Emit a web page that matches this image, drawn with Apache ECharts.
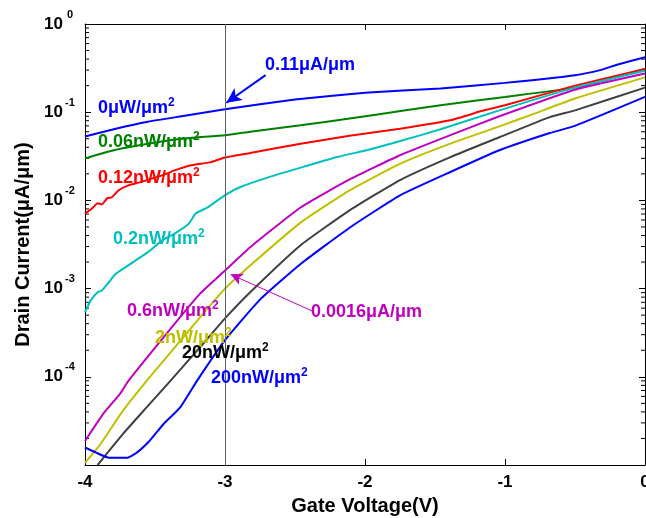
<!DOCTYPE html>
<html>
<head>
<meta charset="utf-8">
<script src="https://cdn.jsdelivr.net/npm/echarts@6/dist/echarts.min.js"></script>
<style>
    html, body { margin: 0; padding: 0; background: #fff; }
    #chart { width: 646px; height: 518px; }
</style>
</head>
<body>
<div id="chart"></div>
<script>
// gate voltage (V) / drain current (uA/um) for each illumination
const vgDark = [-4, -3.78, -3.55, -3.31, -3.0, -2.5, -2.0, -1.46, -1.0, -0.5, -0.32, -0.2, 0];
const idDark = [0.053, 0.065, 0.078, 0.090, 0.108, 0.139, 0.166, 0.186, 0.215, 0.263, 0.300, 0.345, 0.42];

const vg006 = [-4, -3.88, -3.74, -3.55, -3.31, -3.0, -2.82, -2.46, -2.11, -1.71, -1.46, -1.0, -0.5, -0.25, 0];
const id006 = [0.0298, 0.034, 0.0387, 0.044, 0.050, 0.0548, 0.060, 0.071, 0.085, 0.105, 0.12, 0.149, 0.19, 0.24, 0.31];

const vg012 = [-4, -3.95, -3.91, -3.88, -3.84, -3.81, -3.76, -3.69, -3.61, -3.54, -3.45, -3.36, -3.24, -3.11, -3.0, -2.82, -2.46, -2.11, -1.75, -1.39, -1.15, -1.0, -0.5, 0];
const id012 = [0.0071, 0.0081, 0.0093, 0.0090, 0.0106, 0.0108, 0.0130, 0.0148, 0.0160, 0.0173, 0.0192, 0.0219, 0.0250, 0.0270, 0.0306, 0.0345, 0.044, 0.054, 0.065, 0.081, 0.105, 0.12, 0.20, 0.31];

const vg02 = [-4, -3.96, -3.91, -3.88, -3.83, -3.78, -3.71, -3.64, -3.55, -3.45, -3.36, -3.26, -3.21, -3.12, -3.0, -2.89, -2.68, -2.44, -2.2, -1.96, -1.73, -1.46, -1.04, -0.5, 0];
const id02 = [5.4e-4, 7.3e-4, 9.1e-4, 9.5e-4, 1.18e-3, 1.47e-3, 1.75e-3, 2.08e-3, 2.59e-3, 3.5e-3, 4.2e-3, 5.4e-3, 7.1e-3, 8.4e-3, 0.0115, 0.0142, 0.0185, 0.024, 0.031, 0.038, 0.048, 0.064, 0.105, 0.19, 0.295];

const vg06 = [-4, -3.87, -3.75, -3.69, -3.42, -3.18, -3.0, -2.82, -2.46, -2.11, -1.75, -1.39, -1.04, -0.5, 0];
const id06 = [1.87e-5, 3.8e-5, 6.4e-5, 9.0e-5, 3.05e-4, 8.7e-4, 1.6e-3, 2.95e-3, 8.3e-3, 0.0173, 0.0325, 0.055, 0.09, 0.18, 0.275];

const vg2 = [-4, -3.89, -3.73, -3.56, -3.42, -3.18, -3.0, -2.82, -2.46, -2.11, -1.75, -1.39, -1.04, -0.8, -0.5, 0];
const id2 = [1.06e-5, 1.72e-5, 4.1e-5, 9.0e-5, 1.65e-4, 4.7e-4, 1.0e-3, 1.83e-3, 5.6e-3, 0.013, 0.026, 0.044, 0.069, 0.095, 0.143, 0.248];

const vg20 = [-3.91, -3.73, -3.56, -3.39, -3.18, -3.0, -2.82, -2.46, -2.11, -1.75, -1.39, -1.04, -0.68, -0.5, 0];
const id20 = [1.0e-5, 2.24e-5, 4.5e-5, 9.0e-5, 2.15e-4, 4.6e-4, 9.1e-4, 3.1e-3, 7.7e-3, 0.017, 0.031, 0.052, 0.088, 0.105, 0.19];

const vg200 = [-4, -3.92, -3.83, -3.70, -3.63, -3.54, -3.44, -3.32, -3.2, -3.0, -2.75, -2.46, -2.11, -1.75, -1.39, -1.04, -0.68, -0.5, 0];
const id200 = [1.58e-5, 1.38e-5, 1.21e-5, 1.21e-5, 1.38e-5, 1.87e-5, 2.9e-5, 4.5e-5, 9.0e-5, 2.6e-4, 7.5e-4, 1.9e-3, 4.9e-3, 0.0114, 0.021, 0.037, 0.058, 0.070, 0.149];

const curveNames = ['0μW/μm', '0.06nW/μm', '0.12nW/μm', '0.2nW/μm', '0.6nW/μm', '2nW/μm', '20nW/μm', '200nW/μm'];
const curveColors = ['#0000ff', '#008000', '#ff0000', '#00bfbf', '#bf00bf', '#bfbf00', '#404040', '#0000ff'];
const labelColors = ['#0000ff', '#008000', '#ff0000', '#00bfbf', '#bf00bf', '#bfbf00', '#000000', '#0000ff'];
const curves = [[vgDark, idDark], [vg006, id006], [vg012, id012], [vg02, id02],
    [vg06, id06], [vg2, id2], [vg20, id20], [vg200, id200]];

const xTicks = [-4, -3, -2, -1, 0];
const minorTicks = [];
for (let e = -5; e < 0; e++) {
    for (let m = 2; m <= 9; m++) minorTicks.push(m * Math.pow(10, e));
}

const markVg = -3;
const darkArrow = [[-2.71, 0.263], [-2.99, 0.128]];
const darkNote = '0.11μA/μm';
const lightArrow = [[-2.38, 5.6e-4], [-2.96, 1.45e-3]];
const lightNote = '0.0016μA/μm';

const FONT = '"Liberation Sans", Arial, sans-serif';

let chart = echarts.init(document.getElementById('chart'));

let series = curves.map(function (c, i) {
    return {
        name: curveNames[i],
        type: 'line',
        data: c[0].map(function (v, k) { return [v, c[1][k]]; }),
        showSymbol: false,
        smooth: 0.15,
        z: 3,
        lineStyle: { color: curveColors[i], width: 2 },
        itemStyle: { color: curveColors[i] }
    };
});

// minor log ticks on both sides + the vertical marker at -3 V
series.push({
    type: 'custom',
    coordinateSystem: 'cartesian2d',
    silent: true,
    z: 1,
    data: minorTicks.map(function (v) { return [xTicks[0], v]; }),
    renderItem: function (params, api) {
        let v = api.value(1);
        let l = api.coord([xTicks[0], v]);
        let r = api.coord([xTicks[xTicks.length - 1], v]);
        return {
            type: 'group',
            children: [
                { type: 'line', shape: { x1: l[0], y1: l[1], x2: l[0] + 4, y2: l[1] }, style: { stroke: '#000', lineWidth: 1 } },
                { type: 'line', shape: { x1: r[0], y1: r[1], x2: r[0] - 4, y2: r[1] }, style: { stroke: '#000', lineWidth: 1 } }
            ]
        };
    },
    markLine: {
        silent: true,
        symbol: 'none',
        label: { show: false },
        lineStyle: { color: '#606060', width: 1, type: 'solid' },
        data: [{ xAxis: markVg }]
    }
});

// arrows
series.push({
    type: 'line', data: [], z: 4,
    markLine: {
        silent: true,
        symbol: ['none', 'arrow'],
        symbolSize: [11, 15],
        label: { show: false },
        lineStyle: { color: '#0000ff', width: 2, type: 'solid' },
        data: [[{ coord: darkArrow[0] }, { coord: darkArrow[1] }]]
    }
});
series.push({
    type: 'line', data: [], z: 4,
    markLine: {
        silent: true,
        symbol: ['none', 'arrow'],
        symbolSize: [9, 12],
        label: { show: false },
        lineStyle: { color: '#bf00bf', width: 1, type: 'solid' },
        data: [[{ coord: lightArrow[0] }, { coord: lightArrow[1] }]]
    }
});

function noteText(x, y, text, color, sup) {
    return {
        type: 'text',
        x: x,
        y: y,
        z: 10,
        style: {
            text: sup ? '{b|' + text + '}{s|2}' : '{b|' + text + '}',
            fill: color,
            verticalAlign: 'middle',
            align: 'left',
            rich: {
                b: { fontSize: 18, fontWeight: 'bold', fontFamily: FONT, lineHeight: 20, verticalAlign: 'bottom', fill: color },
                s: { fontSize: 12, fontWeight: 'bold', fontFamily: FONT, lineHeight: 12, verticalAlign: 'top', fill: color }
            }
        }
    };
}

const labelPos = [[98, 107], [98, 141], [98, 177], [113, 238], [127, 310], [155, 337], [182, 352], [211, 377]];
let graphics = curveNames.map(function (n, i) {
    return noteText(labelPos[i][0], labelPos[i][1], n, labelColors[i], true);
});
graphics.push(noteText(265, 64, darkNote, '#0000ff', false));
graphics.push(noteText(311, 311, lightNote, '#bf00bf', false));

let option = {
    animation: false,
    backgroundColor: '#fff',
    grid: { left: 85, right: 1, top: 24, bottom: 53, containLabel: false, outerBoundsMode: 'none' },
    xAxis: [{
        type: 'value',
        min: -4, max: 0, interval: 1,
        name: 'Gate Voltage(V)',
        nameLocation: 'middle',
        nameGap: 31,
        nameTextStyle: { fontSize: 20, fontWeight: 'bold', color: '#000', fontFamily: FONT },
        axisLine: { show: true, onZero: false, lineStyle: { color: '#000', width: 1 } },
        axisTick: { inside: true, length: 6, lineStyle: { color: '#000' } },
        axisLabel: { fontSize: 17, fontWeight: 'bold', color: '#000', margin: 9, fontFamily: FONT },
        splitLine: { show: false }
    }, {
        type: 'value',
        position: 'top',
        min: -4, max: 0, interval: 1,
        axisLine: { show: true, onZero: false, lineStyle: { color: '#000', width: 1 } },
        axisTick: { inside: true, length: 6, lineStyle: { color: '#000' } },
        axisLabel: { show: false },
        splitLine: { show: false }
    }],
    yAxis: [{
        type: 'log',
        logBase: 10,
        min: 1e-5, max: 1, interval: 1,
        name: 'Drain Current(μA/μm)',
        nameLocation: 'middle',
        nameGap: 47,
        nameTextStyle: { fontSize: 20, fontWeight: 'bold', color: '#000', fontFamily: FONT },
        axisLine: { show: true, onZero: false, lineStyle: { color: '#000', width: 1 } },
        axisTick: { inside: true, length: 6, lineStyle: { color: '#000' } },
        axisLabel: {
            margin: 8,
            formatter: function (v) {
                let e = Math.round(Math.log10(v));
                if (e < -4) return '';
                return '{b|10}{s|' + e + '}';
            },
            rich: {
                b: { fontSize: 17, fontWeight: 'bold', color: '#000', fontFamily: FONT, lineHeight: 30, verticalAlign: 'middle' },
                s: { fontSize: 11, fontWeight: 'bold', color: '#000', fontFamily: FONT, lineHeight: 10, verticalAlign: 'top', width: 14, align: 'left' }
            }
        },
        splitLine: { show: false }
    }, {
        type: 'log',
        logBase: 10,
        position: 'right',
        min: 1e-5, max: 1, interval: 1,
        axisLine: { show: true, onZero: false, lineStyle: { color: '#000', width: 1 } },
        axisTick: { inside: true, length: 6, lineStyle: { color: '#000' } },
        axisLabel: { show: false },
        splitLine: { show: false }
    }],
    series: series,
    graphic: graphics
};

chart.setOption(option);
</script>
</body>
</html>
